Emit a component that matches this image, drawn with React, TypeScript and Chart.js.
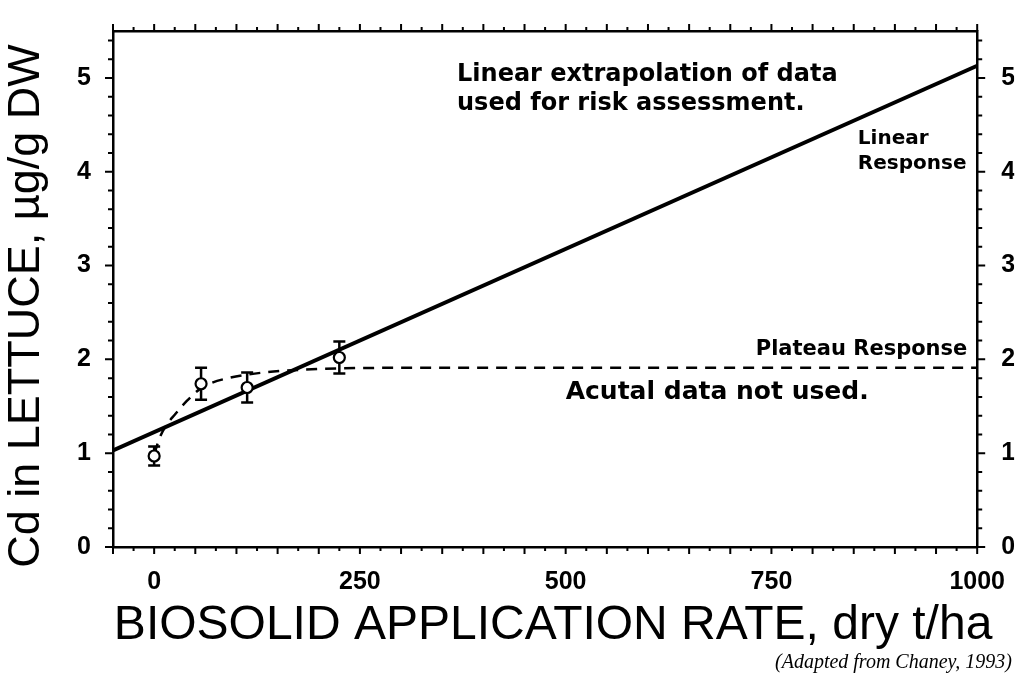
import React, { useEffect, useRef } from 'react';
import { Chart, registerables } from 'chart.js';

Chart.register(...registerables);

// ---- axis ranges & tick labels ----
const X_MIN = -50;
const X_MAX = 1000;
const Y_MIN = 0;
const Y_MAX = 5.5;
const xTickLabels = [0, 250, 500, 750, 1000];
const yTickLabels = [0, 1, 2, 3, 4, 5];

// ---- observed data (mean ± error) ----
const obsRate = [0, 57, 113, 225];
const obsCd = [0.97, 1.74, 1.7, 2.02];
const obsErr = [0.1, 0.17, 0.16, 0.17];

// ---- linear response line ----
const linearRate = [-50, 1000];
const linearCd = [1.03, 5.13];

// ---- plateau response curve (dashed) ----
const plateauRate = [0, 7, 15, 25, 40, 55, 70, 90, 115, 145, 180, 230, 300, 1000];
const plateauCd = [0.99, 1.17, 1.3, 1.41, 1.56, 1.68, 1.75, 1.8, 1.84, 1.87, 1.89, 1.905, 1.91, 1.91];

// ---- annotations (anchored in data space) ----
const noteText = [
  'Linear extrapolation of data',
  'used for risk assessment.',
  'Linear',
  'Response',
  'Plateau Response',
  'Acutal data not used.',
];
const noteX = [368, 368, 855, 855, 988, 500];
const noteY = [5.03, 4.72, 4.35, 4.08, 2.1, 1.645];
const noteAlign: CanvasTextAlign[] = ['left', 'left', 'left', 'left', 'right', 'left'];
const noteSize = [24, 24, 20, 20, 21, 25];

const yTitle = 'Cd in LETTUCE, \u00B5g/g DW';
const xTitle = 'BIOSOLID APPLICATION RATE, dry t/ha';
const caption = '(Adapted from Chaney, 1993)';

const SANS = '"Liberation Sans", Arial, sans-serif';
const NOTE_FONT = '"DejaVu Sans", sans-serif';

const decorPlugin = {
  id: 'decor',
  beforeDatasetsDraw(chart: any) {
    const ctx = chart.ctx;
    const xs = chart.scales.x;
    const ys = chart.scales.y;
    ctx.save();
    ctx.strokeStyle = '#000';
    ctx.lineWidth = 2.5;
    for (let i = 0; i < obsRate.length; i++) {
      const px = xs.getPixelForValue(obsRate[i]);
      const top = ys.getPixelForValue(obsCd[i] + obsErr[i]);
      const bot = ys.getPixelForValue(obsCd[i] - obsErr[i]);
      ctx.beginPath();
      ctx.moveTo(px, top);
      ctx.lineTo(px, bot);
      ctx.moveTo(px - 6, top);
      ctx.lineTo(px + 6, top);
      ctx.moveTo(px - 6, bot);
      ctx.lineTo(px + 6, bot);
      ctx.stroke();
    }
    ctx.restore();
  },
  afterDraw(chart: any) {
    const ctx = chart.ctx;
    const xs = chart.scales.x;
    const ys = chart.scales.y;
    const area = chart.chartArea;
    ctx.save();
    ctx.strokeStyle = '#000';
    ctx.lineWidth = 2;
    // x ticks (top & bottom), every 25
    for (let v = X_MIN; v <= X_MAX; v += 25) {
      const px = xs.getPixelForValue(v);
      const len = v % 50 === 0 ? 7 : 4;
      ctx.beginPath();
      ctx.moveTo(px, area.bottom);
      ctx.lineTo(px, area.bottom + len);
      ctx.moveTo(px, area.top);
      ctx.lineTo(px, area.top - len);
      ctx.stroke();
    }
    // y ticks (left & right), every 0.2
    for (let k = 0; k <= 27; k++) {
      const v = k * 0.2;
      const py = ys.getPixelForValue(v);
      const len = k % 5 === 0 ? 8 : 5;
      ctx.beginPath();
      ctx.moveTo(area.left, py);
      ctx.lineTo(area.left - len, py);
      ctx.moveTo(area.right, py);
      ctx.lineTo(area.right + len, py);
      ctx.stroke();
    }
    // annotations
    ctx.fillStyle = '#000';
    ctx.textBaseline = 'middle';
    for (let i = 0; i < noteText.length; i++) {
      ctx.font = `bold ${noteSize[i]}px ${NOTE_FONT}`;
      ctx.textAlign = noteAlign[i];
      ctx.fillText(noteText[i], xs.getPixelForValue(noteX[i]), ys.getPixelForValue(noteY[i]));
    }
    // y title
    ctx.save();
    ctx.translate(39, 306);
    ctx.rotate(-Math.PI / 2);
    ctx.font = `45px ${SANS}`;
    ctx.textAlign = 'center';
    ctx.textBaseline = 'alphabetic';
    ctx.fillText(yTitle, 0, 0);
    ctx.restore();
    // x title
    ctx.font = `48px ${SANS}`;
    ctx.textAlign = 'center';
    ctx.textBaseline = 'alphabetic';
    ctx.fillText(xTitle, (area.left + area.right) / 2 + 8, 639);
    // caption
    ctx.font = `italic 20px "Liberation Serif", "Times New Roman", serif`;
    ctx.textAlign = 'right';
    ctx.fillText(caption, 1012, 668);
    ctx.restore();
  },
};

export default function App() {
  const canvasRef = useRef<HTMLCanvasElement | null>(null);

  useEffect(() => {
    const canvas = canvasRef.current;
    if (!canvas) return;

    const tickFont = { family: SANS, size: 25, weight: 'bold' as const };
    const keepX = (scale: any) => {
      scale.ticks = xTickLabels.map((v) => ({ value: v }));
    };
    const keepY = (scale: any) => {
      scale.ticks = yTickLabels.map((v) => ({ value: v }));
    };
    const plain = (v: any) => String(v);

    const chart = new Chart(canvas, {
      type: 'scatter',
      data: {
        datasets: [
          {
            label: 'Observed',
            data: obsRate.map((x, i) => ({ x, y: obsCd[i] })),
            showLine: false,
            pointRadius: 5.5,
            pointBorderWidth: 2.2,
            pointBackgroundColor: '#fff',
            pointBorderColor: '#000',
          },
          {
            label: 'Linear Response',
            data: linearRate.map((x, i) => ({ x, y: linearCd[i] })),
            showLine: true,
            borderColor: '#000',
            borderWidth: 4,
            pointRadius: 0,
          },
          {
            label: 'Plateau Response',
            data: plateauRate.map((x, i) => ({ x, y: plateauCd[i] })),
            showLine: true,
            borderColor: '#000',
            borderWidth: 2.5,
            borderDash: [11, 8],
            cubicInterpolationMode: 'monotone',
            pointRadius: 0,
          },
        ],
      },
      options: {
        responsive: false,
        animation: false,
        events: [],
        layout: { padding: 0 },
        plugins: {
          legend: { display: false },
          tooltip: { enabled: false },
          title: { display: false },
        },
        scales: {
          x: {
            type: 'linear',
            position: 'bottom',
            min: X_MIN,
            max: X_MAX,
            afterBuildTicks: keepX,
            afterFit: (s: any) => { s.height = 129; },
            grid: { display: false },
            border: { display: true, color: '#000', width: 2.5 },
            ticks: { font: tickFont, color: '#000', padding: 12, maxRotation: 0, autoSkip: false, callback: plain },
          },
          x2: {
            type: 'linear',
            position: 'top',
            min: X_MIN,
            max: X_MAX,
            afterFit: (s: any) => { s.height = 22; },
            grid: { display: false },
            border: { display: true, color: '#000', width: 2.5 },
            ticks: { display: false },
          },
          y: {
            type: 'linear',
            position: 'left',
            min: Y_MIN,
            max: Y_MAX,
            afterBuildTicks: keepY,
            afterFit: (s: any) => { s.width = 113; },
            grid: { display: false },
            border: { display: true, color: '#000', width: 2.5 },
            ticks: { font: tickFont, color: '#000', padding: 14, autoSkip: false, callback: plain },
          },
          y2: {
            type: 'linear',
            position: 'right',
            min: Y_MIN,
            max: Y_MAX,
            afterBuildTicks: keepY,
            afterFit: (s: any) => { s.width = 37; },
            grid: { display: false },
            border: { display: true, color: '#000', width: 2.5 },
            ticks: { font: tickFont, color: '#000', padding: 16, autoSkip: false, callback: plain },
          },
        },
      },
      plugins: [decorPlugin],
    });

    return () => chart.destroy();
  }, []);

  return (
    <div style={{ position: 'fixed', left: 0, top: 0, width: 1017, height: 676, background: '#fff' }}>
      <canvas ref={canvasRef} width={1017} height={676} style={{ width: 1017, height: 676, display: 'block' }} />
    </div>
  );
}
